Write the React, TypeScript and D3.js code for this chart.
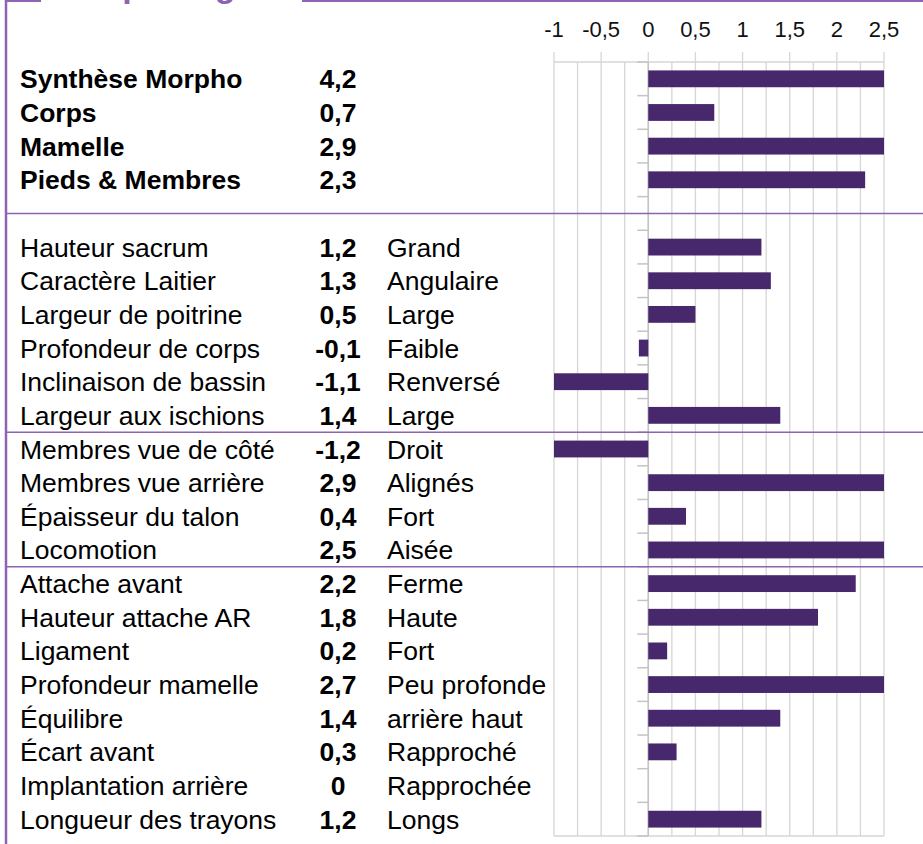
import React from "react";
import * as d3 from "d3";

const labels = [
  "Synthèse Morpho", "Corps", "Mamelle", "Pieds & Membres", "",
  "Hauteur sacrum", "Caractère Laitier", "Largeur de poitrine", "Profondeur de corps",
  "Inclinaison de bassin", "Largeur aux ischions",
  "Membres vue de côté", "Membres vue arrière", "Épaisseur du talon", "Locomotion",
  "Attache avant", "Hauteur attache AR", "Ligament", "Profondeur mamelle",
  "Équilibre", "Écart avant", "Implantation arrière", "Longueur des trayons",
];
const values: (number | null)[] = [
  4.2, 0.7, 2.9, 2.3, null,
  1.2, 1.3, 0.5, -0.1, -1.1, 1.4,
  -1.2, 2.9, 0.4, 2.5,
  2.2, 1.8, 0.2, 2.7, 1.4, 0.3, 0, 1.2,
];
const descriptors = [
  "", "", "", "", "",
  "Grand", "Angulaire", "Large", "Faible", "Renversé", "Large",
  "Droit", "Alignés", "Fort", "Aisée",
  "Ferme", "Haute", "Fort", "Peu profonde", "arrière haut", "Rapproché", "Rapprochée", "Longs",
];
const boldRows = 4;
const tickValues = [-1, -0.5, 0, 0.5, 1, 1.5, 2, 2.5];
const gridValues = d3.range(-1, 2.51, 0.25);

const width = 923, height = 844;
const frame = "#8d63b2";
const barColor = "#48286c";
const grid = "#d6d6d6";
const font = "'Liberation Sans', Arial, sans-serif";

const fmt = (v: number) => String(v).replace(".", ",");

export default function App() {
  const x = d3.scaleLinear().domain([-1, 2.5]).range([554, 884]);
  const idx = labels.map((_, i) => i);
  const y = d3.scaleBand<number>().domain(idx).range([62, 836]).paddingInner(0.5).paddingOuter(0.25);
  const step = y.step();
  const top = 62;
  const boundaries = d3.range(0, labels.length + 1).map(i => top + i * step);
  const center = (i: number) => (y(i) as number) + y.bandwidth() / 2;
  const separators = [top + 4.5 * step, top + 11 * step, top + 15 * step];

  return (
    <svg width={width} height={height} style={{ position: "absolute", left: 0, top: 0, background: "#fff" }}
      fontFamily={font}>
      {/* frame */}
      <line x1={6} x2={6} y1={0} y2={height} stroke={frame} strokeWidth={2.5} />
      <line x1={5} x2={41} y1={1} y2={1} stroke={frame} strokeWidth={2} />
      <line x1={302} x2={width} y1={1} y2={1} stroke={frame} strokeWidth={2} />
      <text x={60} y={-3} fontSize={34} fontWeight="bold" fill={frame}>Morphologie</text>

      {/* grid */}
      {gridValues.map(v => (
        <line key={v} x1={x(v)} x2={x(v)} y1={62} y2={836} stroke={grid} strokeWidth={1.3} />
      ))}
      <line x1={x(-1)} x2={x(2.5)} y1={62} y2={62} stroke={grid} strokeWidth={1.3} />
      <line x1={x(-1)} x2={x(2.5)} y1={836} y2={836} stroke={grid} strokeWidth={1.3} />
      {tickValues.map(v => (
        <g key={v}>
          <line x1={x(v)} x2={x(v)} y1={52} y2={62} stroke={grid} strokeWidth={1.3} />
          <text x={x(v)} y={37} fontSize={22} textAnchor="middle" fill="#111">{fmt(v)}</text>
        </g>
      ))}
      {/* y axis */}
      <line x1={x(0)} x2={x(0)} y1={62} y2={836} stroke="#c4c4c4" strokeWidth={1.5} />
      {boundaries.map((b, i) => (
        <line key={i} x1={x(0) - 11} x2={x(0)} y1={b} y2={b} stroke="#c4c4c4" strokeWidth={1.5} />
      ))}

      {/* bars */}
      {values.map((v, i) => {
        if (v === null || v === 0) return null;
        const a = x(Math.max(-1, Math.min(0, v)));
        const b = x(Math.min(2.5, Math.max(0, v)));
        return <rect key={i} x={a} y={y(i)} width={b - a} height={y.bandwidth()} fill={barColor} />;
      })}

      {/* separators */}
      {separators.map((s, i) => (
        <line key={i} x1={6} x2={width} y1={s} y2={s} stroke={frame} strokeWidth={1.5} />
      ))}

      {/* text columns */}
      {labels.map((l, i) => (
        <g key={i} fontSize={26.5} fill="#000">
          <text x={20} y={center(i) + 9.5} fontWeight={i < boldRows ? "bold" : "normal"}>{l}</text>
          {values[i] !== null && (
            <text x={338} y={center(i) + 9.5} fontWeight="bold" textAnchor="middle">{fmt(values[i] as number)}</text>
          )}
          <text x={387} y={center(i) + 9.5}>{descriptors[i]}</text>
        </g>
      ))}
    </svg>
  );
}
